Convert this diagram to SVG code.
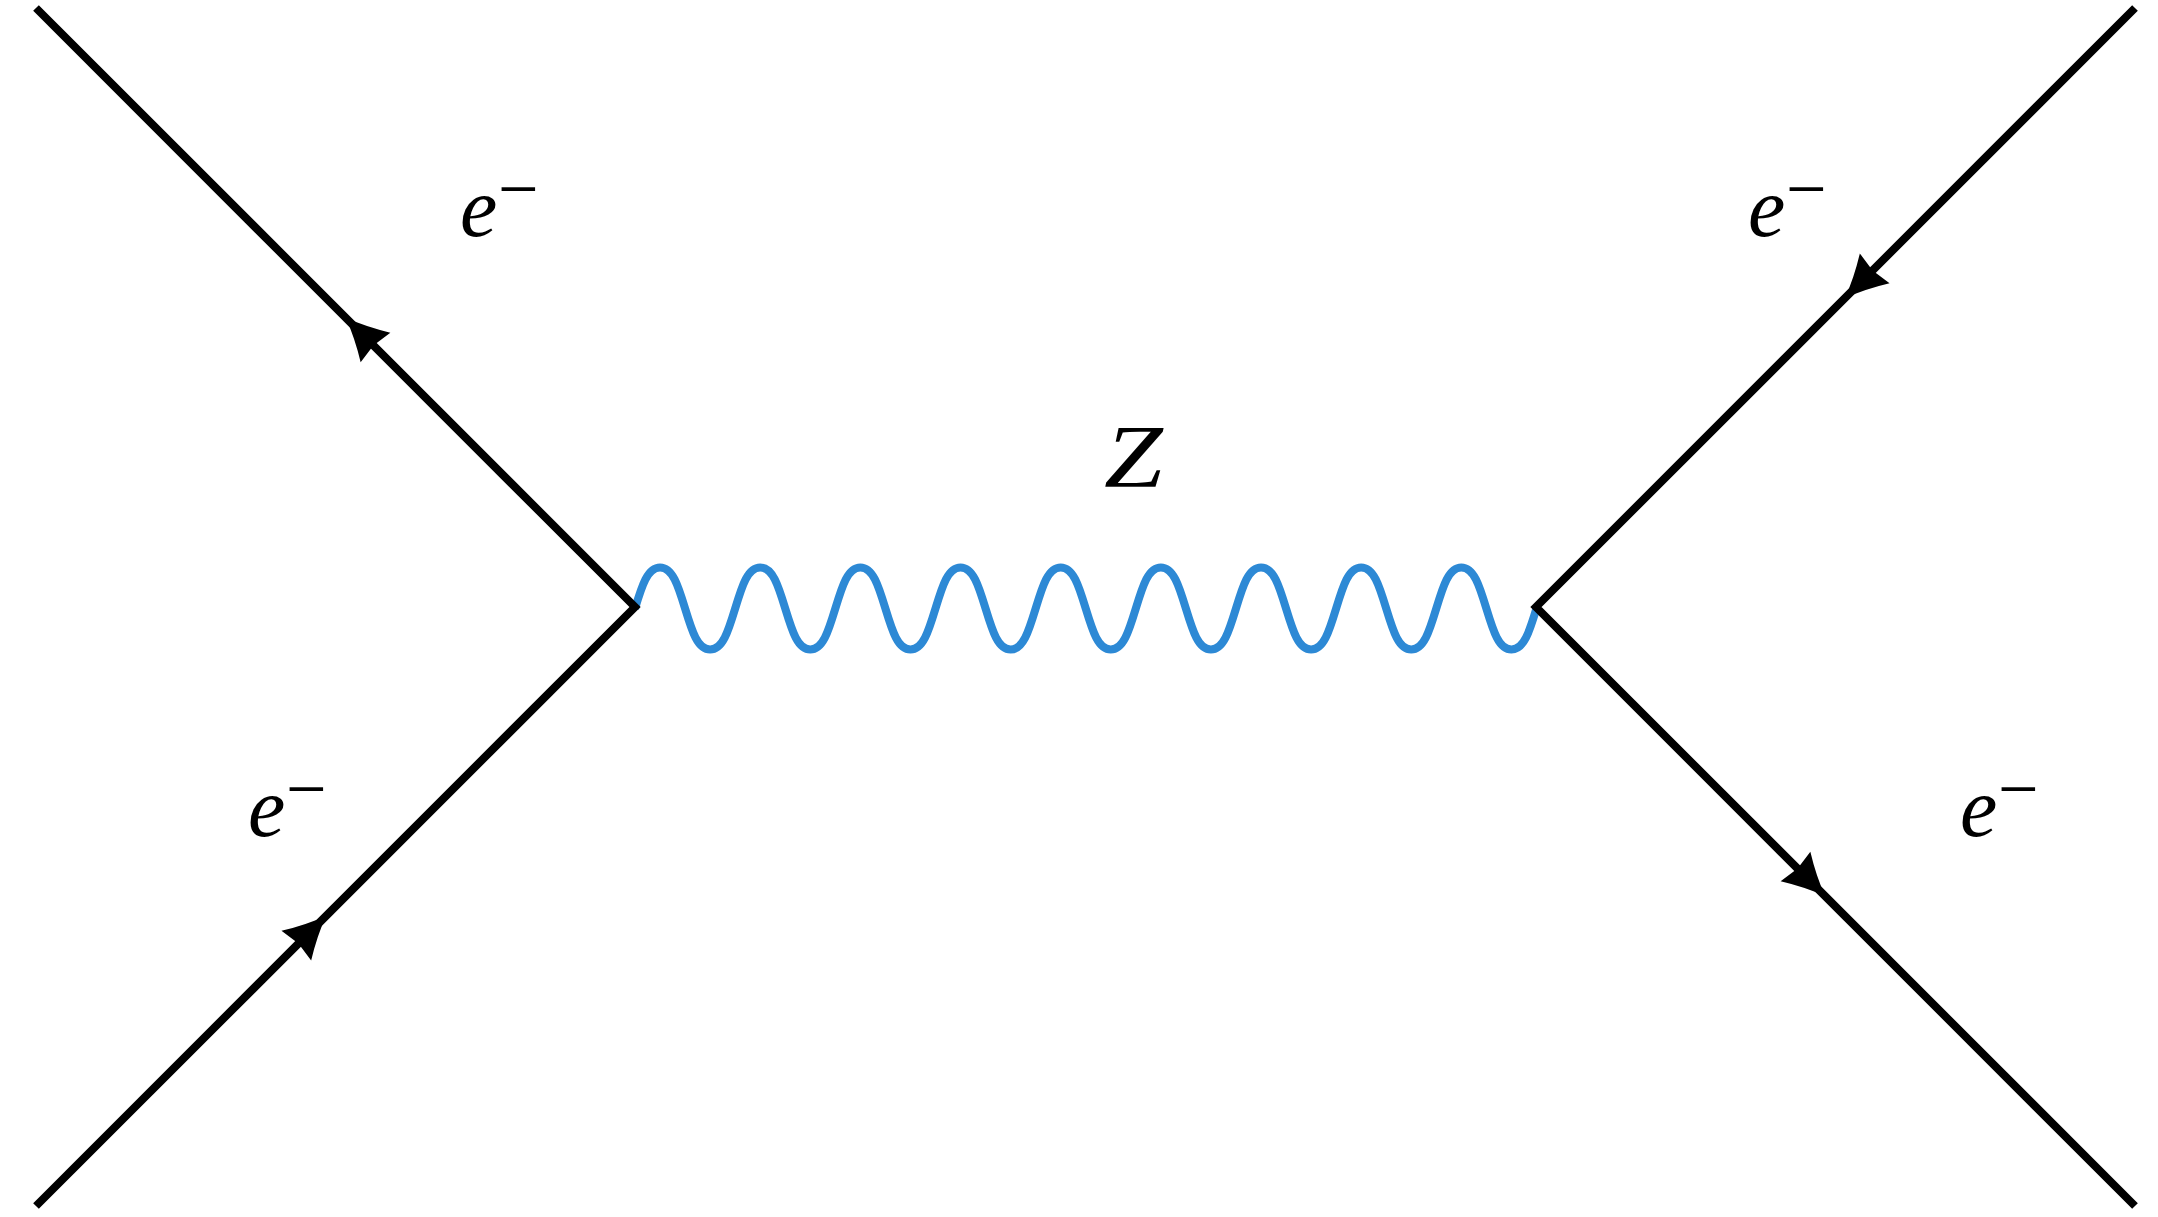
<svg xmlns="http://www.w3.org/2000/svg" width="2158" height="1217" viewBox="0 0 2158 1217">
<style>
.fermion{fill:none;stroke:#000;stroke-width:8;stroke-linejoin:miter;stroke-linecap:butt}
.boson{fill:none;stroke:#2D89D5;stroke-width:8;stroke-linecap:butt}
.lbl{font-family:"Liberation Serif","DejaVu Serif",serif;font-style:italic;fill:#000}
.sup{font-family:"Liberation Serif","DejaVu Serif",serif;fill:#000}
</style>
<defs>
<path id="ah" d="M0,0 Q-21,-8 -42,-21 L-39,0 L-42,21 Q-21,8 0,0 Z" fill="#000"/>
</defs>
<g id="connectors">
<path id="wave" class="boson" d="M635,608.5
c7,-23 12.5,-41 25.04,-41 c12.54,0 18.04,18 25.04,41 c7,23 12.5,41 25.04,41 c12.54,0 18.04,-18 25.04,-41
c7,-23 12.5,-41 25.04,-41 c12.54,0 18.04,18 25.04,41 c7,23 12.5,41 25.04,41 c12.54,0 18.04,-18 25.04,-41
c7,-23 12.5,-41 25.04,-41 c12.54,0 18.04,18 25.04,41 c7,23 12.5,41 25.04,41 c12.54,0 18.04,-18 25.04,-41
c7,-23 12.5,-41 25.04,-41 c12.54,0 18.04,18 25.04,41 c7,23 12.5,41 25.04,41 c12.54,0 18.04,-18 25.04,-41
c7,-23 12.5,-41 25.04,-41 c12.54,0 18.04,18 25.04,41 c7,23 12.5,41 25.04,41 c12.54,0 18.04,-18 25.04,-41
c7,-23 12.5,-41 25.04,-41 c12.54,0 18.04,18 25.04,41 c7,23 12.5,41 25.04,41 c12.54,0 18.04,-18 25.04,-41
c7,-23 12.5,-41 25.04,-41 c12.54,0 18.04,18 25.04,41 c7,23 12.5,41 25.04,41 c12.54,0 18.04,-18 25.04,-41
c7,-23 12.5,-41 25.04,-41 c12.54,0 18.04,18 25.04,41 c7,23 12.5,41 25.04,41 c12.54,0 18.04,-18 25.04,-41
c7,-23 12.5,-41 25.04,-41 c12.54,0 18.04,18 25.04,41 c7,23 12.5,41 25.04,41 c12.54,0 18.04,-18 25.04,-41"/>
<path id="left-lines" class="fermion" d="M36,8 L635,607 L36,1206"/>
<path id="right-lines" class="fermion" d="M2135,8 L1536,607 L2135,1206"/>
<use href="#ah" transform="translate(345.8,317.8) rotate(-135)"/>
<use href="#ah" transform="translate(326,916) rotate(-45)"/>
<use href="#ah" transform="translate(1845,298) rotate(135)"/>
<use href="#ah" transform="translate(1825.2,896.2) rotate(45)"/>
</g>
<g id="label-tl"><text class="lbl" x="460" y="236" font-size="84">e</text><text class="sup" x="498" y="213" font-size="72">−</text></g>
<g id="label-bl"><text class="lbl" x="248" y="836" font-size="84">e</text><text class="sup" x="286" y="813" font-size="72">−</text></g>
<g id="label-tr"><text class="lbl" x="1748" y="236" font-size="84">e</text><text class="sup" x="1786" y="213" font-size="72">−</text></g>
<g id="label-br"><text class="lbl" x="1960" y="836" font-size="84">e</text><text class="sup" x="1998" y="813" font-size="72">−</text></g>
<g id="label-z"><text class="lbl" transform="translate(1104,486) scale(1.2,1)" x="0" y="0" font-size="88">Z</text></g>
</svg>
